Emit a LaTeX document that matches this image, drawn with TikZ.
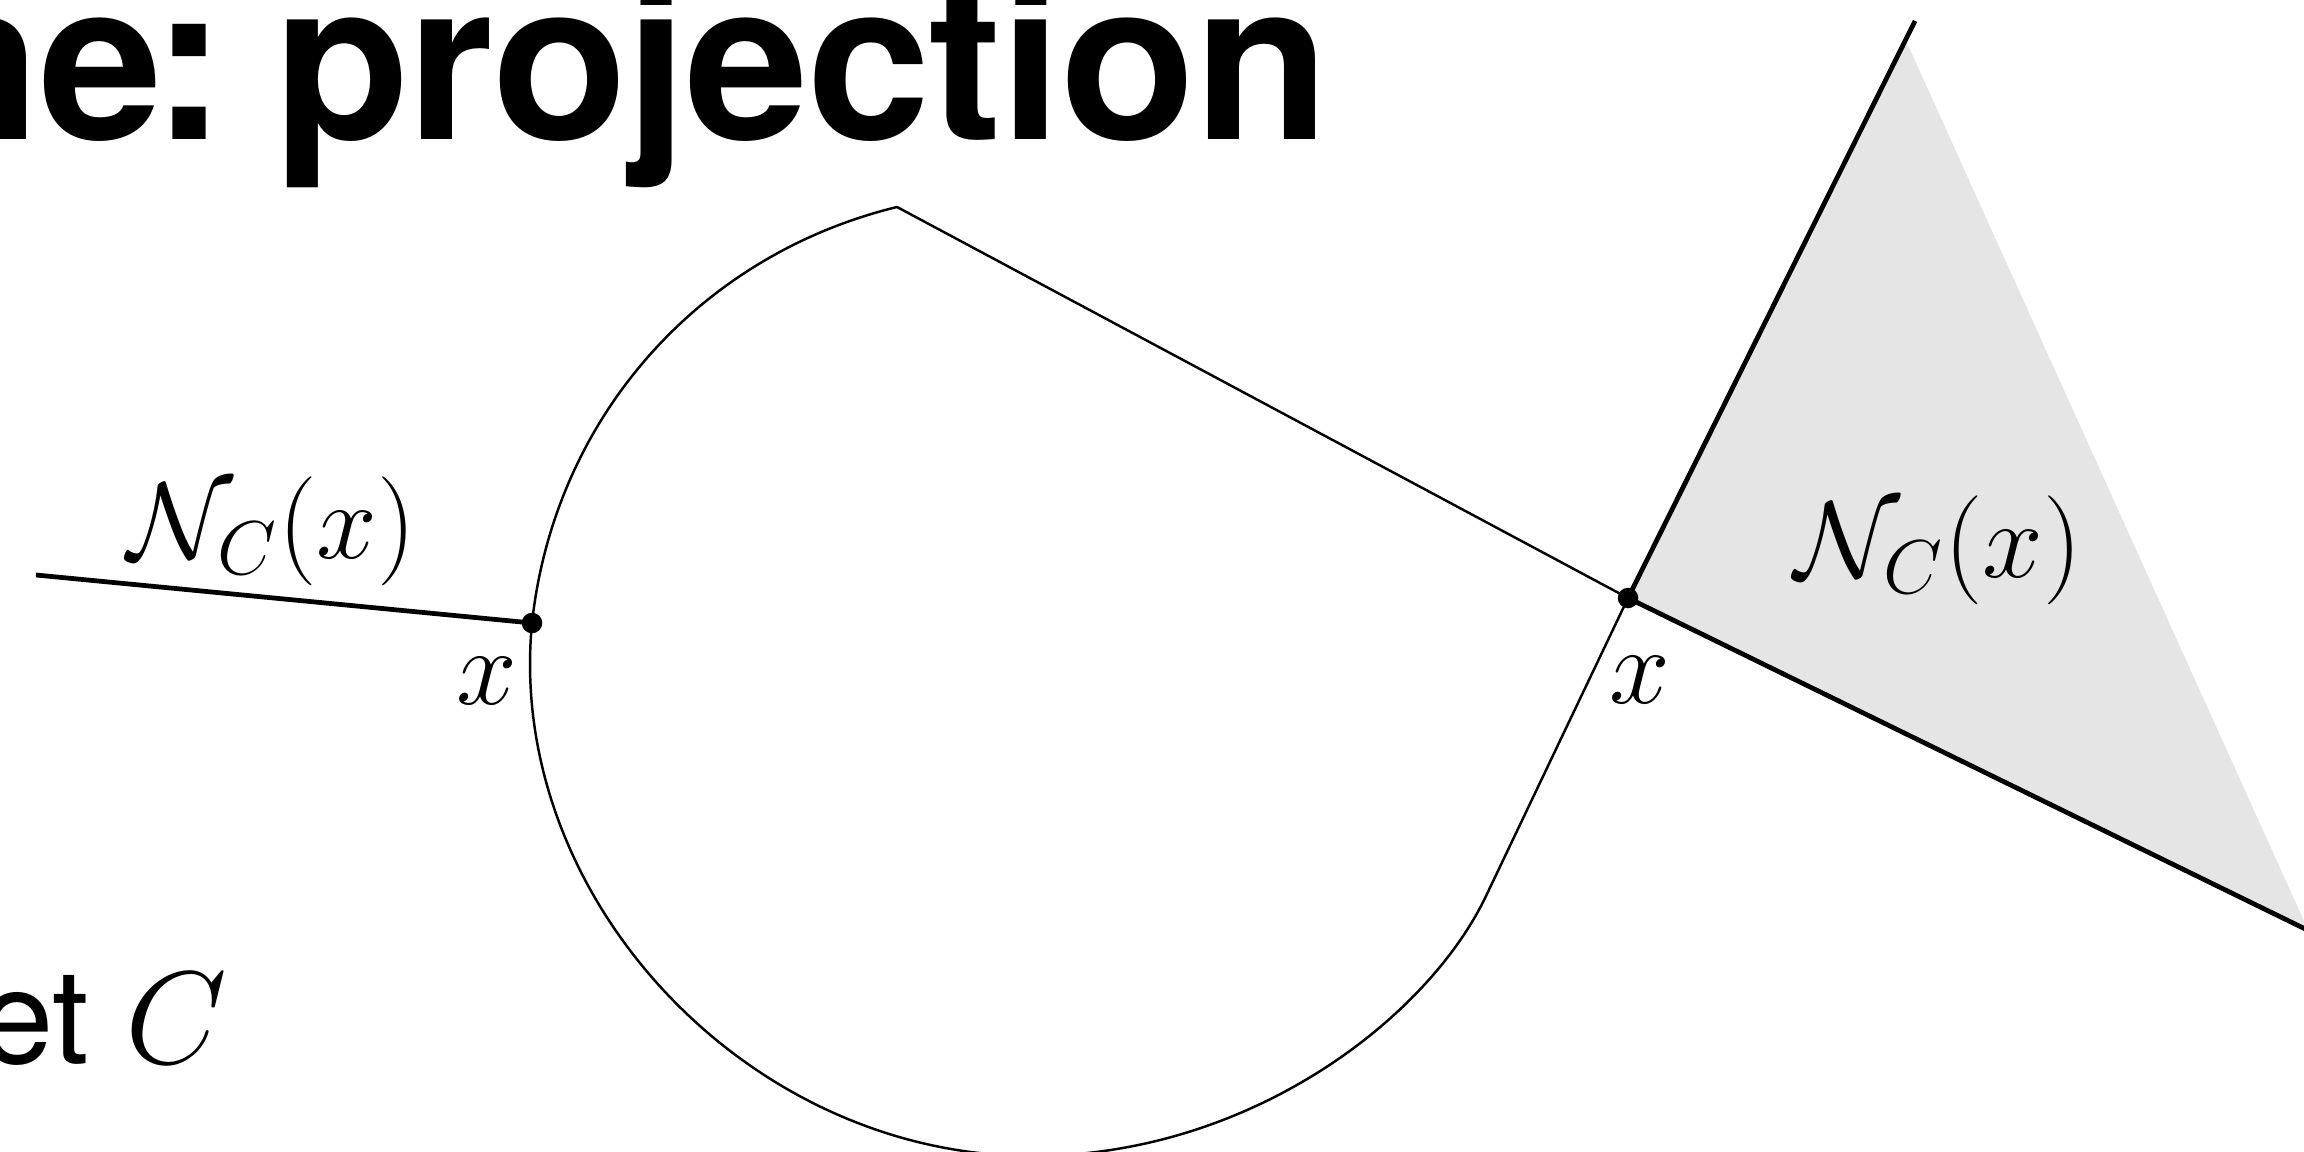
\RequirePackage{fix-cm}
\documentclass[tikz,border=0pt]{standalone}
\usepackage{fontspec}
\newfontfamily\heros{TeX Gyre Heros}
\newfontfamily\herostitle{TeX Gyre Heros}[LetterSpace=-0.8]
\begin{document}
\begin{tikzpicture}[x=0.01cm,y=-0.01cm,
  setline/.style={line width=0.7pt, line join=round},
  normalline/.style={line width=1.35pt},
  ptdot/.style={circle, fill=black, inner sep=0pt, minimum size=0.205cm},
  mlabel/.style={inner sep=0pt, font=\fontsize{31}{37}\selectfont},
  conefill/.style={fill=gray!20}
]
\useasboundingbox (0,0) rectangle (2304,1152);
\clip (0,0) rectangle (2304,1152);
\coordinate (V) at (897,207);
\coordinate (R) at (1628,598);
\coordinate (L) at (532,623);
\coordinate (P1) at (1486,896);
\coordinate (B) at (1032,1156);
\coordinate (U) at (1915,21);
\coordinate (G1) at (1907,43);
\coordinate (G2) at (2309,932);
\coordinate (E) at (2340,946);
\coordinate (W) at (36,575);
% normal cone at the corner
\fill[conefill] (R) -- (G1) -- (G2) -- cycle;
% the set C
\draw[setline] (V) -- (R) -- (P1)
  .. controls (1428,1018) and (1250,1156) .. (B)
  .. controls (747,1156) and (505.6,896.6) .. (L)
  .. controls (554.1,419.2) and (697.7,255.6) .. (V) -- cycle;
% normal rays
\draw[normalline] (L) -- (W);
\draw[normalline] (R) -- (U);
\draw[normalline] (R) -- (E);
% points
\node[ptdot] (dL) at (L) {};
\node[ptdot] (dR) at (R) {};
% labels
\node[mlabel] (nl) at (272,531) {$\mathcal{N}_C(x)$};
\node[mlabel] (nr) at (1938,550) {$\mathcal{N}_C(x)$};
\node[mlabel] (xl) at (487,681) {$x$};
\node[mlabel] (xr) at (1640,680) {$x$};
\node[anchor=base east, inner sep=0pt, font=\herostitle\bfseries\fontsize{63}{70}\selectfont] (title) at (1330,140) {ne\kern-0.10cm:\kern-0.12cm\ projection};
\node[anchor=base east, inner sep=0pt, font=\heros\fontsize{37.5}{42}\selectfont] (setc) at (228,1063) {et $C$};
\end{tikzpicture}
\end{document}
